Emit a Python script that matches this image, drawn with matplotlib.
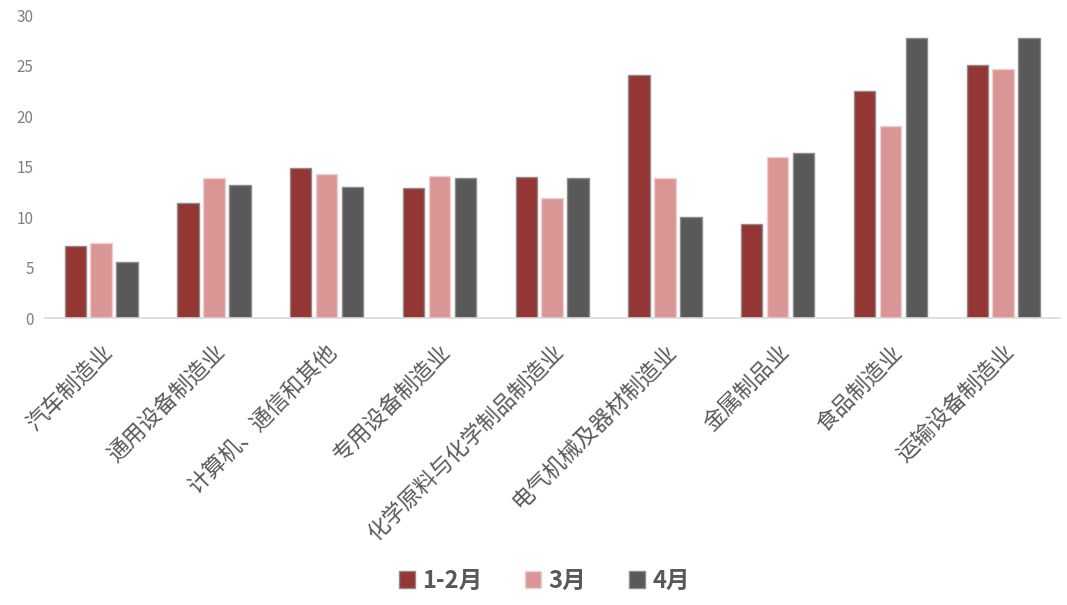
import numpy as np
import matplotlib
matplotlib.use("Agg")
from matplotlib import pyplot as plt

plt.rcParams['font.family'] = ['Noto Sans CJK SC', 'DejaVu Sans']

categories = ["汽车制造业", "通用设备制造业", "计算机、通信和其他", "专用设备制造业",
              "化学原料与化学制品制造业", "电气机械及器材制造业", "金属制品业",
              "食品制造业", "运输设备制造业"]
s_12 = [7.1, 11.4, 14.9, 12.9, 14.0, 24.1, 9.3, 22.5, 25.1]
s_3 = [7.4, 13.9, 14.3, 14.1, 11.9, 13.9, 16.0, 19.0, 24.7]
s_4 = [5.6, 13.2, 13.0, 13.9, 13.9, 10.0, 16.4, 27.7, 27.7]
series_names = ["1-2月", "3月", "4月"]

colors = ["#943634", "#D99694", "#595959"]
edges = ["#8c8c8c", "#f0d0cf", "#8c8c8c"]

fig = plt.figure(figsize=(10.67, 6.05), dpi=100)
ax = fig.add_axes([0.042, 0.474, 0.951, 0.501])

x = np.arange(len(categories))
w = 0.19
step = 0.23
for i, vals in enumerate([s_12, s_3, s_4]):
    ax.bar(x + (i - 1) * step, vals, w, color=colors[i], edgecolor=edges[i],
           linewidth=1.0, label=series_names[i], zorder=2)

ax.set_xlim(-0.5, len(categories) - 0.5)
ax.set_ylim(0, 30)
ax.set_yticks(np.arange(0, 31, 5))
for s in ["top", "right", "left"]:
    ax.spines[s].set_visible(False)
ax.spines["bottom"].set_color("#d9d9d9")
ax.spines["bottom"].set_linewidth(1.2)
ax.tick_params(axis="y", length=0, labelsize=11, labelcolor="#7f7f7f", pad=8)
ax.tick_params(axis="x", length=0, pad=16)
ax.set_xticks(x)
ax.set_xticklabels(categories, rotation=45, ha="right", rotation_mode="anchor",
                   fontsize=16, color="#595959")

leg = fig.legend(loc="lower center", bbox_to_anchor=(0.51, -0.015), ncol=3, frameon=False,
                 prop={"size": 17, "weight": "bold"}, handlelength=0.7, handleheight=0.7,
                 handletextpad=0.3, columnspacing=1.8)
for t in leg.get_texts():
    t.set_color("#595959")

fig.savefig("out.png", dpi=100)
